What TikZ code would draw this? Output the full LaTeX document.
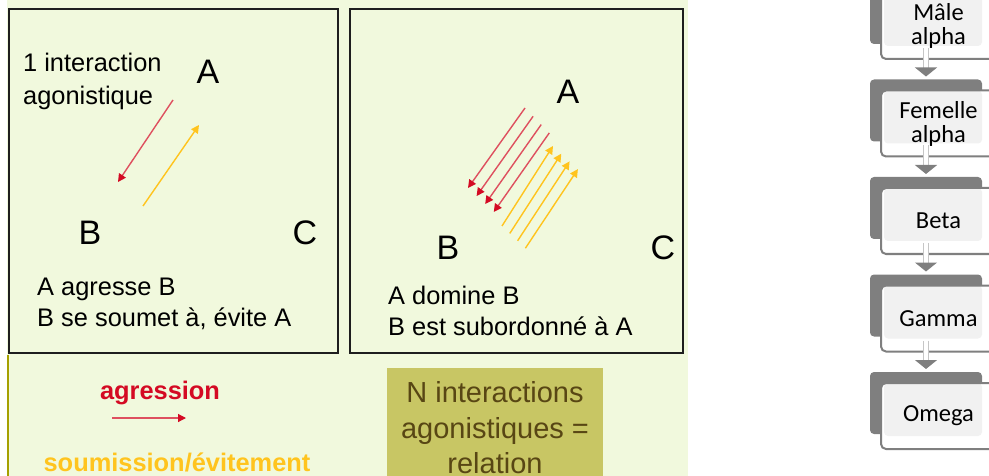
\documentclass[tikz,border=0pt]{standalone}
\usepackage{fontspec}
\setmainfont{Liberation Sans}
\newfontfamily\calibri{Carlito}
\usetikzlibrary{arrows.meta,backgrounds,calc}

\definecolor{fond}{RGB}{241,249,221}
\definecolor{bord}{RGB}{30,30,30}
\definecolor{rougetrait}{RGB}{222,80,95}
\definecolor{rougefonce}{RGB}{212,10,35}
\definecolor{jaune}{RGB}{255,196,30}
\definecolor{olive}{RGB}{200,198,100}
\definecolor{olivetexte}{RGB}{88,70,20}
\definecolor{olivebord}{RGB}{165,160,0}
\definecolor{grisfonce}{RGB}{127,127,127}
\definecolor{grisclair}{RGB}{241,241,241}

\begin{document}
\begin{tikzpicture}[x=1pt,y=-1pt]
  % Styles
  \tikzstyle{panneau}=[draw=bord, line width=2pt, fill=fond, inner sep=0pt]
  \tikzstyle{texte}=[font=\fontsize{25.4}{30.5}\selectfont, align=left, inner sep=0pt, anchor=west]
  \tikzstyle{lettre}=[font=\fontsize{34}{34}\selectfont, inner sep=0pt]
  \tikzstyle{agr}=[rougetrait, line width=1.4pt, -{Triangle[width=8pt,length=8pt,color=rougefonce]}]
  \tikzstyle{soum}=[jaune, line width=1.4pt, -{Triangle[width=8pt,length=8pt]}]
  \tikzstyle{rang}=[draw=grisfonce, line width=2pt, fill=white, rounded corners=5pt,
    minimum width=115pt, minimum height=66pt, inner sep=0pt, align=center,
    font=\calibri\fontsize{24.5}{24}\selectfont,
    path picture={\fill[grisclair, rounded corners=4pt]
      ($(path picture bounding box.north west)+(3,0)$) rectangle
      ($(path picture bounding box.south east)+(-14,-13)$);}]
  \tikzstyle{lien}=[draw=gray!45, line width=1.2pt, double=white, double distance=3.5pt,
    -{Triangle[width=22pt,length=9pt,color=grisfonce]}]

  \useasboundingbox (0,0) rectangle (989,476);
  \clip (0,0) rectangle (989,476);

  % Fond de la diapositive
  \fill[fond] (7,0) rectangle (688,476);
  \draw[olivebord, line width=2pt] (8,355) -- (8,476);

  % Deux cadres
  \node[panneau, minimum width=329pt, minimum height=344pt] (cadre1) at (173.5,181) {};
  \node[panneau, minimum width=333pt, minimum height=344pt] (cadre2) at (516.5,181) {};

  % Cadre 1 : une interaction
  \node[texte, font=\fontsize{25.4}{33}\selectfont] (titre) at (23,81) {1 interaction\\agonistique};
  \node[lettre] (a1) at (208,72) {A};
  \node[lettre] (b1) at (90,233) {B};
  \node[lettre] (c1) at (305,233) {C};
  \coordinate (r1a) at (173,100);
  \coordinate (r1b) at (118,182);
  \coordinate (j1a) at (143,206);
  \coordinate (j1b) at (199,125);
  \draw[agr] (r1a) -- (r1b);
  \draw[soum] (j1a) -- (j1b);
  \node[texte] (legende1) at (37,304) {A agresse B\\B se soumet à, évite A};

  % Cadre 2 : N interactions
  \node[lettre] (a2) at (568,92) {A};
  \node[lettre] (b2) at (448,248) {B};
  \node[lettre] (c2) at (663,248) {C};
  \foreach \i in {0,...,3}{
    \coordinate (ra\i) at ({525+8.1*\i},{108+8.3*\i});
    \coordinate (rb\i) at ({468+8.6*\i},{188+8*\i});
    \draw[agr] (ra\i) -- (rb\i);
    \coordinate (ja\i) at ({502+7.8*\i},{226+7.4*\i});
    \coordinate (jb\i) at ({553+8.3*\i},{146+7.7*\i});
    \draw[soum] (ja\i) -- (jb\i);
  }
  \node[texte] (legende2) at (388,311) {A domine B\\B est subordonné à A};

  % Legende du bas
  \node[font=\fontsize{25.4}{30}\selectfont\bfseries, text=rougefonce] (agression) at (160,393) {agression};
  \coordinate (fa) at (112,418);
  \coordinate (fb) at (186,418);
  \draw[agr, line width=1.2pt] (fa) -- (fb);
  \node[font=\fontsize{25.4}{30}\selectfont\bfseries, text=jaune] (soumission) at (177,462) {soumission/évitement};
  \node[fill=olive, text=olivetexte, minimum width=216pt, minimum height=121pt, align=center,
    font=\fontsize{29}{35.5}\selectfont] (relation) at (495,428)
    {N interactions\\agonistiques =\\relation};

  % Hierarchie
  \node[rang] (male) at (938.5,26) {Mâle\\alpha};
  \node[rang] (femelle) at (938.5,123.5) {Femelle\\alpha};
  \node[rang] (beta) at (938.5,221) {Beta};
  \node[rang] (gamma) at (938.5,318.5) {Gamma};
  \node[rang] (omega) at (938.5,416) {Omega};

  \begin{scope}[on background layer]
    \foreach \n in {male,femelle,beta,gamma,omega}{
      \fill[grisfonce, rounded corners=4pt] ($(\n.north west)+(-10,-10)$) rectangle ($(\n.north east)+(-15,52)$);
    }
  \end{scope}

  \foreach \h/\b in {male/femelle,femelle/beta,beta/gamma,gamma/omega}{
    \draw[lien] ([xshift=-12.5pt,yshift=12pt]\h.south) -- ([xshift=-12.5pt,yshift=13pt]\b.north);
  }
\end{tikzpicture}
\end{document}
